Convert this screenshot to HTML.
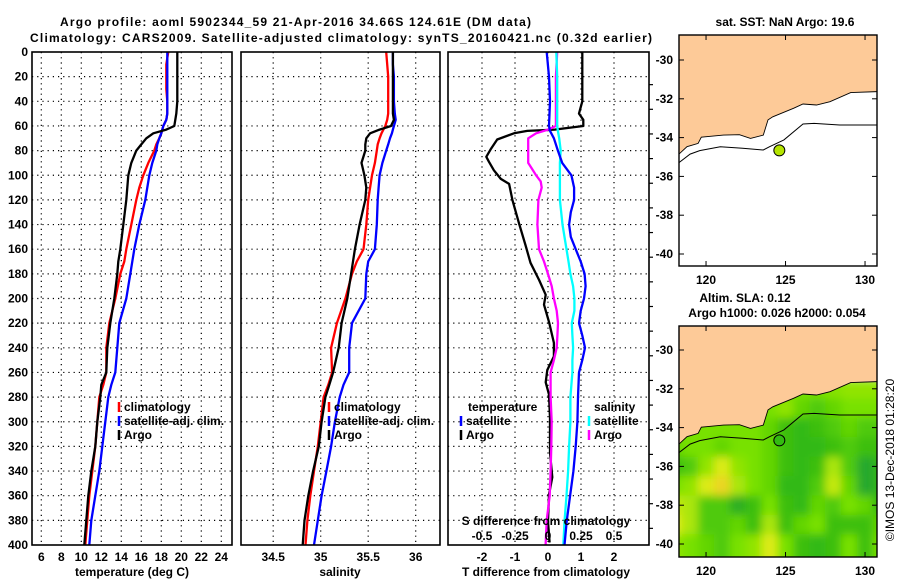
<!DOCTYPE html>
<html><head><meta charset="utf-8"><style>
html,body{margin:0;padding:0;background:#fff}
svg{display:block}
text{font-family:"Liberation Sans",Arial,sans-serif;font-weight:bold;font-size:12px;fill:#000}
</style></head><body>
<svg id="fig" width="900" height="580" viewBox="0 0 900 580" xmlns="http://www.w3.org/2000/svg">
<defs>
<clipPath id="mapclip2"><rect x="679" y="326" width="198" height="231"/></clipPath>
<clipPath id="mapclip1"><rect x="679" y="35" width="198" height="231"/></clipPath>
<filter id="blur" x="-5%" y="-5%" width="110%" height="110%"><feGaussianBlur stdDeviation="4.5"/></filter>
</defs>
<text x="60" y="26" textLength="471" font-size="13">Argo profile: aoml 5902344_59 21-Apr-2016 34.66S 124.61E (DM data)</text>
<text x="30" y="42" textLength="622" font-size="13">Climatology: CARS2009. Satellite-adjusted climatology: synTS_20160421.nc (0.32d earlier)</text>
<g id="plots"></g>
</svg>
<script>
// ---------- profile data ----------
const tDepth   = [0,10,20,30,40,50,55,60,63,66,70,75,80,90,100,110,120,140,160,170,180,200,220,240,260,270,280,300,320,340,360,380,400];
const tClim    = [18.7,18.5,18.5,18.5,18.6,18.6,18.5,18.2,18.1,18.0,17.8,17.5,17.3,16.7,16.2,15.8,15.5,15.0,14.5,14.3,13.9,13.4,12.8,12.5,12.5,12.2,11.8,11.6,11.4,11.1,10.8,10.6,10.4];
const tSat     = [18.6,18.6,18.6,18.6,18.6,18.6,18.5,18.2,18.1,18.0,17.8,17.6,17.5,17.1,16.8,16.6,16.4,15.8,15.3,15.1,14.9,14.5,13.8,13.6,13.4,13.0,12.7,12.4,12.1,11.8,11.4,11.0,10.8];
const tArgo    = [19.6,19.6,19.6,19.6,19.6,19.5,19.4,19.3,18.5,17.2,16.5,16.0,15.5,15.0,14.7,14.6,14.5,14.2,13.9,13.7,13.6,13.3,12.9,12.6,12.5,12.0,11.9,11.6,11.4,11.0,10.7,10.5,10.3];
const sClim    = [35.69,35.70,35.71,35.71,35.71,35.71,35.70,35.68,35.66,35.64,35.62,35.60,35.59,35.57,35.54,35.52,35.50,35.48,35.45,35.38,35.33,35.26,35.17,35.11,35.12,35.08,35.03,35.00,34.97,34.93,34.89,34.86,34.84];
const sSat     = [35.76,35.76,35.77,35.77,35.77,35.78,35.79,35.77,35.76,35.75,35.73,35.71,35.69,35.65,35.62,35.61,35.60,35.59,35.57,35.50,35.48,35.47,35.33,35.30,35.30,35.24,35.20,35.15,35.11,35.06,35.01,34.97,34.93];
const sArgo    = [35.76,35.76,35.76,35.76,35.76,35.76,35.77,35.74,35.62,35.52,35.48,35.47,35.47,35.43,35.46,35.48,35.47,35.41,35.36,35.34,35.32,35.28,35.22,35.19,35.13,35.09,35.05,35.01,34.98,34.92,34.87,34.83,34.81];
// difference panel
const dDepth   = [0,20,40,50,55,60,63,64,66,71,79,85,89,96,103,107,120,139,157,171,185,197,205,219,236,247,258,268,278,297,325,345,359,381,398];
const dTArgo   = [1.04,1.04,1.04,0.94,1.07,1.07,0.2,-0.63,-1.03,-1.54,-1.74,-1.87,-1.79,-1.64,-1.43,-1.18,-1.08,-0.88,-0.68,-0.53,-0.27,-0.07,-0.12,0.03,0.18,0.18,-0.02,-0.07,0.03,0.06,0.06,0.13,0.03,0.0,0.05];
const dSDepth  = [0,20,40,60,64,70,80,90,100,110,120,130,140,150,160,170,180,190,200,210,220,230,240,250,260,280,300,320,340,360,380,400];
const dTSat    = [-0.04,0.03,0.06,0.03,0.06,0.18,0.30,0.43,0.71,0.79,0.79,0.69,0.64,0.69,0.84,0.99,1.11,1.14,1.09,0.99,0.94,1.04,1.12,1.04,0.94,0.91,0.89,0.84,0.77,0.67,0.57,0.50];
const dSSat    = [0.063,0.07,0.07,0.07,0.075,0.085,0.096,0.09,0.09,0.09,0.09,0.10,0.11,0.125,0.14,0.155,0.17,0.19,0.20,0.20,0.18,0.185,0.19,0.185,0.185,0.17,0.17,0.16,0.152,0.14,0.126,0.116];
const dSArgoD  = [0,20,40,60,63,66,70,80,90,95,100,105,110,120,140,160,170,180,190,200,210,220,230,240,250,260,270,280,300,320,340,360,380,400];
const dSArgo   = [0.07,0.06,0.06,0.06,0.0,-0.09,-0.15,-0.15,-0.15,-0.12,-0.09,-0.055,-0.048,-0.073,-0.08,-0.068,-0.03,0.0,0.028,0.045,0.066,0.076,0.071,0.066,0.045,0.02,0.02,0.02,0.028,0.025,0.02,0.013,-0.01,-0.018];
// tick labels
const depthTicks = [0,20,40,60,80,100,120,140,160,180,200,220,240,260,280,300,320,340,360,380,400];
const tTicks = [6,8,10,12,14,16,18,20,22,24];
const sTicks = [34.5,35,35.5,36];
const dTTicks = [-2,-1,0,1,2];
const dSTicks = [-0.5,-0.25,0,0.25,0.5];
const dSTickLabels = ["-0.5","-0.25","0","0.25","0.5"];
// ---------- map data ----------
const coastLon = [118.3,118.8,119.5,119.7,121.1,122.1,122.8,123.6,123.9,124.2,125.5,126.1,126.95,127.8,129.1,130.8];
const coastLat = [-34.85,-34.47,-34.3,-33.98,-33.87,-33.85,-34.04,-33.87,-33.09,-32.93,-32.49,-32.27,-32.32,-32.15,-31.68,-31.63];
const isoLon = [118.3,119.0,119.6,120.9,122.3,123.6,124.0,124.9,126.1,126.8,128.4,130.8];
const isoLat = [-35.29,-34.85,-34.67,-34.47,-34.55,-34.64,-34.47,-34.12,-33.3,-33.27,-33.35,-33.35];
const argoLon = 124.61, argoLat = -34.66;
const slaLons = [118,119,120,121,122,123,124,125,126,127,128,129,130,131];
const slaLats = [-32,-33,-34,-35,-36,-37,-38,-39,-40,-41];
const slaRows = [
 [.12,.12,.12,.12,.12,.12,.12,.12,.12,.12,.13,.14,.14,.14],
 [.12,.12,.12,.12,.12,.12,.12,.14,.10,.08,.10,.12,.12,.12],
 [.12,.12,.12,.12,.12,.12,.10,.06,.05,.06,.08,.10,.08,.08],
 [.10,.12,.12,.10,.12,.12,.10,.06,.05,.05,.06,.08,.06,.06],
 [.06,.08,.14,.20,.14,.12,.10,.06,.05,.06,.16,.08,.00,.04],
 [.12,.14,.20,.26,.16,.12,.10,.05,.05,.08,.18,.10,.00,.04],
 [.18,.16,.08,.08,.02,.06,.12,.06,.05,.10,.08,.12,.10,.05],
 [.20,.16,.08,.08,.10,.06,.16,.06,.10,.12,.06,.06,.06,.10],
 [.14,.12,.10,.08,.12,.14,.20,.12,.06,.05,.06,.12,.06,.12],
 [.14,.12,.10,.08,.12,.14,.20,.12,.06,.05,.06,.12,.06,.12]
];
const mapLatTicks = [-30,-32,-34,-36,-38,-40];
const mapLonTicks = [120,125,130];

const NS="http://www.w3.org/2000/svg";
const root=document.getElementById('plots');
function el(tag,attrs,parent){const e=document.createElementNS(NS,tag);for(const k in attrs)e.setAttribute(k,attrs[k]);(parent||root).appendChild(e);return e;}
function txt(x,y,s,anchor,parent,size){const e=el('text',{x:x,y:y,'text-anchor':anchor||'start'},parent);if(size)e.setAttribute('font-size',size);e.textContent=s;return e;}

// scales
const Y0=52,Y1=545;
const sy=d=>Y0+d*(Y1-Y0)/400;
const sx1=t=>32+(t-5.07)*10;
const sx2=s=>320.7+(s-35)*95;
const sx3T=t=>548+t*33;
const sx3S=s=>548+s*132;

function panel(x0,x1,name){
  const g=el('g',{});
  
  
  depthTicks.forEach(d=>{ if(d>0&&d<400){
    const l=el('line',{x1:x0,x2:x1,y1:sy(d),y2:sy(d),stroke:'#000','stroke-width':1.2,'stroke-dasharray':'1.2 4'},g);
    
    
  }});
  return g;
}
function vgrid(g,xs){xs.forEach(x=>{
  const l=el('line',{x1:x,x2:x,y1:Y0,y2:Y1,stroke:'#000','stroke-width':1.2,'stroke-dasharray':'1.2 4'},g);
  
  
});}
function frame(g,x0,x1){
  const r=el('rect',{x:x0,y:Y0,width:x1-x0,height:Y1-Y0,fill:'none',stroke:'#000','stroke-width':1.6},g);
  
  
}
function line(g,xs,ds,fx,color,name){
  const pts=xs.map((v,i)=>fx(v).toFixed(1)+','+sy(ds[i]).toFixed(1)).join(' ');
  const p=el('polyline',{points:pts,fill:'none',stroke:color,'stroke-width':2.3,'stroke-linejoin':'round'},g);
  
  
}
function legend(g,x,y,items){
  items.forEach((it,i)=>{
    const yy=y+i*14;
    const m=el('line',{x1:x,x2:x,y1:yy-5,y2:yy+5,stroke:it[1],'stroke-width':2.5},g);
    
    
    const t=txt(x+5,yy+4,it[0],'start',g);
    
    
  });
}

// depth axis labels
const dax=el('g',{});


depthTicks.forEach(d=>{const t=txt(28,sy(d)+4,String(d),'end',dax);
  
  });

// panel 1 temperature
const g1=panel(32,232,'temperature-panel');
vgrid(g1,tTicks.map(sx1));
line(g1,tClim,tDepth,sx1,'#ff0000','climatology-temperature-line');
line(g1,tSat,tDepth,sx1,'#0000ff','satellite-temperature-line');
line(g1,tArgo,tDepth,sx1,'#000000','argo-temperature-line');
frame(g1,32,232);
tTicks.forEach(t=>{const e=txt(sx1(t),561,String(t),'middle',g1);
  
  });
const at1=txt(132,576,'temperature (deg C)','middle',g1);


legend(g1,119,407,[['climatology','#ff0000'],['satellite-adj. clim.','#0000ff'],['Argo','#000']]);

// panel 2 salinity
const g2=panel(241,440,'salinity-panel');
vgrid(g2,sTicks.map(sx2));
line(g2,sClim,tDepth,sx2,'#ff0000','climatology-salinity-line');
line(g2,sSat,tDepth,sx2,'#0000ff','satellite-salinity-line');
line(g2,sArgo,tDepth,sx2,'#000000','argo-salinity-line');
frame(g2,241,440);
sTicks.forEach(s=>{const e=txt(sx2(s),561,String(s),'middle',g2);
  
  });
const at2=txt(340,576,'salinity','middle',g2);


legend(g2,329,407,[['climatology','#ff0000'],['satellite-adj. clim.','#0000ff'],['Argo','#000']]);

// panel 3 differences
const g3=panel(448,649,'difference-panel');
vgrid(g3,dTTicks.map(sx3T));
line(g3,dTArgo,dDepth,sx3T,'#000000','argo-temperature-difference-line');
line(g3,dSArgo,dSArgoD,sx3S,'#ff00ff','argo-salinity-difference-line');
line(g3,dSSat,dSDepth,sx3S,'#00ffff','satellite-salinity-difference-line');
line(g3,dTSat,dSDepth,sx3T,'#0000ff','satellite-temperature-difference-line');
frame(g3,448,649);
depthTicks.forEach(d=>{ if(d>0&&d<400){el('line',{x1:649,x2:653,y1:sy(d)+8,y2:sy(d)+8,stroke:'#000','stroke-width':1.2},g3);} });
dTTicks.forEach(t=>{const e=txt(sx3T(t),561,String(t),'middle',g3);
  
  });
dSTicks.forEach((s,i)=>{const e=txt(sx3S(s),540,dSTickLabels[i],'middle',g3);
  
  });
const st=txt(546,525,'S difference from climatology','middle',g3);


const tt=txt(546,576,'T difference from climatology','middle',g3);


const lh1=txt(468,411,'temperature','start',g3);


legend(g3,461,421,[['satellite','#0000ff'],['Argo','#000']]);
const lh2=txt(594,411,'salinity','start',g3);


legend(g3,589,421,[['satellite','#00ffff'],['Argo','#ff00ff']]);

// ---------- maps ----------
const mx=lon=>679+(lon-118.3)*15.9;
function drawMap(top,latRef,name,clip,withSLA){
  const my=lat=>latRef+(-30-lat)*19.4;
  const g=el('g',{});
  
  
  el('rect',{x:679,y:top,width:198,height:231,fill:'#fff'},g);
  const cg=el('g',{'clip-path':'url(#'+clip+')'},g);
  if(withSLA){
    const hg=el('g',{filter:'url(#blur)'},cg);
    slaRows.forEach((row,j)=>row.forEach((v,i)=>{
      const c=el('rect',{x:mx(slaLons[i]-0.5),y:my(slaLats[j]+0.5),width:15.9+0.5,height:19.4+0.5,fill:slaColor(v)},hg);
      
      
    }));
  }
  let lp=coastLon.map((l,i)=>mx(l).toFixed(1)+','+my(coastLat[i]).toFixed(1));
  lp.push(mx(131)+','+my(-31.63),mx(131)+','+my(-28),mx(118)+','+my(-28),mx(118)+','+my(-34.85));
  const land=el('polygon',{points:lp.join(' '),fill:'#fdca98',stroke:'#000','stroke-width':0.9},cg);
  
  
  const iso=el('polyline',{points:isoLon.map((l,i)=>mx(l).toFixed(1)+','+my(isoLat[i]).toFixed(1)).join(' '),fill:'none',stroke:'#000','stroke-width':1},cg);
  
  
  const dot=el('circle',{cx:mx(argoLon),cy:my(argoLat),r:5.5,fill:withSLA?'#33bb11':'#b4e400',stroke:'#000','stroke-width':1},g);
  
  
  const fr=el('rect',{x:679,y:top,width:198,height:231,fill:'none',stroke:'#000','stroke-width':1.4},g);
  
  
  mapLatTicks.forEach(l=>{
    el('line',{x1:679,x2:684,y1:my(l),y2:my(l),stroke:'#000'},g);
    el('line',{x1:872,x2:877,y1:my(l),y2:my(l),stroke:'#000'},g);
    const t=txt(673,my(l)+4,String(l),'end',g);
    
    
  });
  mapLonTicks.forEach(l=>{
    el('line',{x1:mx(l),x2:mx(l),y1:top,y2:top+5,stroke:'#000'},g);
    el('line',{x1:mx(l),x2:mx(l),y1:top+226,y2:top+231,stroke:'#000'},g);
    const t=txt(mx(l),top+249,String(l),'middle',g);
    
    
  });
}
function slaColor(v){
  const stops=[[-0.05,[26,150,70]],[0.05,[50,185,20]],[0.12,[120,225,0]],[0.2,[220,235,20]],[0.28,[240,205,40]]];
  if(v<=stops[0][0])return 'rgb('+stops[0][1]+')';
  for(let i=1;i<stops.length;i++){if(v<=stops[i][0]){const a=stops[i-1],b=stops[i],f=(v-a[0])/(b[0]-a[0]);
    return 'rgb('+a[1].map((c,k)=>Math.round(c+(b[1][k]-c)*f)).join(',')+')';}}
  return 'rgb('+stops[stops.length-1][1]+')';
}
drawMap(35,60,'sst-map','mapclip1',false);
drawMap(326,350,'sla-map','mapclip2',true);
const m1=txt(785,26,'sat. SST: NaN Argo: 19.6','middle');


const m2=txt(745,302,'Altim. SLA: 0.12','middle');


const m3=txt(777,317,'Argo h1000: 0.026 h2000: 0.054','middle');


const cp=txt(0,0,'©IMOS 13-Dec-2018 01:28:20','middle');
cp.setAttribute('transform','translate(894,460) rotate(-90)');
cp.setAttribute('style','font-weight:normal;font-size:12px');


</script>
</body></html>
